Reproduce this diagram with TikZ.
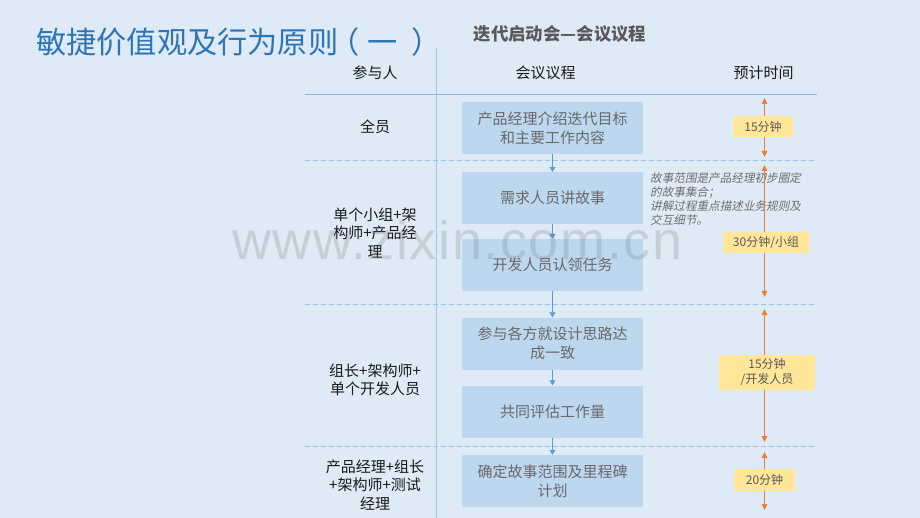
\documentclass[tikz,border=0pt]{standalone}
\usepackage{fontspec}
\setmainfont{Noto Sans CJK SC}
\newfontfamily\slantfont[FakeSlant=0.2]{Noto Sans CJK SC}
\newfontfamily\wmfont[LetterSpace=3]{Liberation Sans}
\usetikzlibrary{arrows.meta}
\definecolor{bg}{RGB}{222,234,246}
\definecolor{titleblue}{RGB}{46,117,182}
\definecolor{boxfill}{RGB}{189,215,238}
\definecolor{boxtext}{RGB}{105,105,105}
\definecolor{solidcol}{RGB}{143,180,222}
\definecolor{dashcol}{RGB}{157,195,232}
\definecolor{vertcol}{RGB}{160,196,230}
\definecolor{flowblue}{RGB}{91,155,213}
\definecolor{orangec}{RGB}{237,125,49}
\definecolor{yellowc}{RGB}{255,230,153}
\definecolor{subgray}{RGB}{89,89,89}
\definecolor{notegray}{RGB}{110,110,110}
\tikzset{
  stepbox/.style={fill=boxfill, text=boxtext, minimum width=181pt, minimum height=52pt, inner sep=0pt, align=center, font=\fontsize{15}{19}\selectfont},
  whobox/.style={text=black!90, align=center, inner sep=0pt, font=\fontsize{15}{18.5}\selectfont},
  headtxt/.style={text=black!90, inner sep=0pt, font=\fontsize{15}{18}\selectfont},
  timebox/.style={fill=yellowc, text=subgray, inner sep=0pt, align=center, font=\fontsize{12}{15}\selectfont},
  flow/.style={draw=flowblue, line width=0.8pt, -{Triangle[length=5pt,width=6pt]}},
  timearrow/.style={draw=orangec, line width=0.9pt, {Triangle[length=6pt,width=5.5pt]}-{Triangle[length=6pt,width=5.5pt]}},
  rowdash/.style={draw=dashcol, line width=0.9pt, dash pattern=on 5pt off 3pt},
}
\begin{document}
\begin{tikzpicture}[x=1pt,y=-1pt]
\fill[bg] (0,0) rectangle (920,518);
\useasboundingbox (0,0) rectangle (920,518);

% title and subtitle
\node[anchor=west, inner sep=0pt, text=titleblue, font=\fontsize{30.2}{31}\selectfont] (title) at (36,42) {敏捷价值观及行为原则\hspace{-9pt}（\hspace{8.5pt}一\hspace{13.5pt}）};
\node[inner sep=0pt, text=subgray, font=\bfseries\fontsize{17.4}{19}\selectfont] (subtitle) at (560,34) {迭代启动会—会议议程};

% table lines
\coordinate (vtop) at (436,48);
\coordinate (vbot) at (436,518);
\draw[draw=vertcol, line width=1pt] (vtop) -- (vbot);
\coordinate (h0a) at (305,95);  \coordinate (h0b) at (817,95);
\draw[draw=solidcol, line width=1pt] (h0a) -- (h0b);
\coordinate (h1a) at (305,160.5); \coordinate (h1b) at (815,160.5);
\coordinate (h2a) at (305,304);   \coordinate (h2b) at (815,304);
\coordinate (h3a) at (305,446);   \coordinate (h3b) at (815,446);
\draw[rowdash] (h1a) -- (h1b);
\draw[rowdash] (h2a) -- (h2b);
\draw[rowdash] (h3a) -- (h3b);

% headers
\node[headtxt] (hwho) at (375,73) {参与人};
\node[headtxt] (hagenda) at (545.5,73) {会议议程};
\node[headtxt] (htime) at (763.5,73) {预计时间};

% participants
\node[whobox] (w1) at (375,127) {全员};
\node[whobox] (w2) at (375,233) {单个小组+架\\构师+产品经\\理};
\node[whobox] (w3) at (375,380) {组长+架构师+\\单个开发人员};
\node[whobox] (w4) at (375,485) {产品经理+组长\\+架构师+测试\\经理};

% agenda steps
\node[stepbox] (b1) at (552.5,128) {产品经理介绍迭代目标\\和主要工作内容};
\node[stepbox] (b2) at (552.5,198) {需求人员讲故事};
\node[stepbox] (b3) at (552.5,265) {开发人员认领任务};
\node[stepbox] (b4) at (552.5,343.5) {参与各方就设计思路达\\成一致};
\node[stepbox] (b5) at (552.5,411.5) {共同评估工作量};
\node[stepbox] (b6) at (552.5,481) {确定故事范围及里程碑\\计划};
\draw[flow] (b1.south) -- (b2.north);
\draw[flow] (b2.south) -- (b3.north);
\draw[flow] (b3.south) -- (b4.north);
\draw[flow] (b4.south) -- (b5.north);
\draw[flow] (b5.south) -- (b6.north);

% note
\node[anchor=north west, inner sep=0pt, align=left, text=notegray, font=\slantfont\fontsize{11.6}{14.2}\selectfont] (note) at (650,172) {故事范围是产品经理初步圈定\\的故事集合；\\讲解过程重点描述业务规则及\\交互细节。};

% time arrows
\coordinate (t1a) at (764.5,98);  \coordinate (t1b) at (764.5,157);
\coordinate (t2a) at (764.5,165); \coordinate (t2b) at (764.5,297);
\coordinate (t3a) at (764.5,309); \coordinate (t3b) at (764.5,442);
\coordinate (t4a) at (764.5,452); \coordinate (t4b) at (764.5,510);
\draw[timearrow] (t1a) -- (t1b);
\draw[timearrow] (t2a) -- (t2b);
\draw[timearrow] (t3a) -- (t3b);
\draw[timearrow] (t4a) -- (t4b);
\node[timebox, minimum width=60pt, minimum height=21pt] (tm1) at (763,126.5) {15分钟};
\node[timebox, minimum width=86pt, minimum height=21pt] (tm2) at (766,242.5) {30分钟/小组};
\node[timebox, minimum width=96pt, minimum height=35pt] (tm3) at (767,372.5) {15分钟\\/开发人员};
\node[timebox, minimum width=61pt, minimum height=22pt] (tm4) at (764.5,480) {20分钟};

% watermark
\node[anchor=base west, inner sep=0pt, text={rgb,255:red,100;green,100;blue,100}, text opacity=0.2, font=\wmfont\fontsize{54}{58}\selectfont] (wm) at (232,260) {www.zixin.com.cn};
\end{tikzpicture}
\end{document}
